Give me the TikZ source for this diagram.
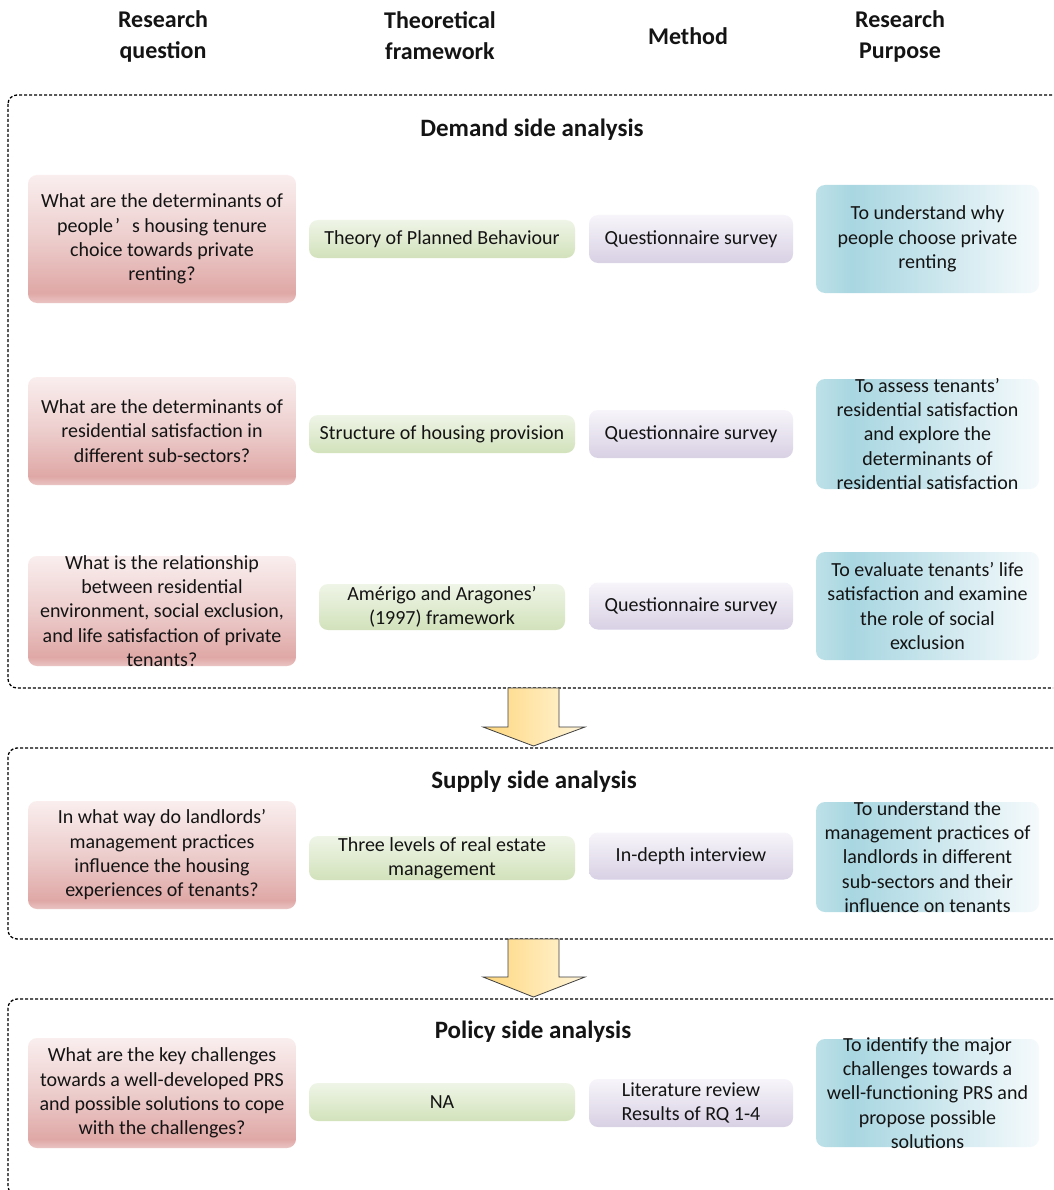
\documentclass[tikz,border=0pt]{standalone}
\usepackage{fontspec}
\setmainfont{Carlito}

\definecolor{txtc}{RGB}{20,20,20}
\definecolor{redTop}{RGB}{250,238,238}
\definecolor{redMid}{RGB}{236,205,204}
\definecolor{redDark}{RGB}{223,168,166}
\definecolor{redBot}{RGB}{234,196,195}
\definecolor{greenTop}{RGB}{239,245,231}
\definecolor{greenBot}{RGB}{210,226,187}
\definecolor{purpTop}{RGB}{247,245,250}
\definecolor{purpBot}{RGB}{216,208,228}
\definecolor{blueL}{RGB}{190,225,232}
\definecolor{blueD}{RGB}{168,214,225}
\definecolor{blueR}{RGB}{245,250,252}
\definecolor{arrowL}{RGB}{255,215,125}
\definecolor{arrowR}{RGB}{255,245,218}

% question boxes: pale top, darker band near the bottom
\pgfdeclareverticalshading{redsh}{100bp}{color(0bp)=(redBot); color(25bp)=(redBot); color(29bp)=(redDark); color(50bp)=(redMid); color(75bp)=(redTop); color(100bp)=(redTop)}
% purpose boxes: teal on the left fading to white on the right
\pgfdeclarehorizontalshading{bluesh}{100bp}{color(0bp)=(blueL); color(25bp)=(blueL); color(33bp)=(blueD); color(75bp)=(blueR); color(100bp)=(blueR)}

\tikzset{
  box/.style={rectangle, rounded corners=9pt, inner sep=0pt, shade},
  qbox/.style={box, shading=redsh},
  fbox/.style={box, top color=greenTop, bottom color=greenBot},
  mbox/.style={box, top color=purpTop, bottom color=purpBot},
  pbox/.style={box, shading=bluesh},
  txt/.style={align=center, font=\fontsize{20}{24.3}\selectfont, text=txtc, inner sep=0pt},
  head/.style={align=center, font=\fontsize{24}{31}\selectfont\bfseries, text=txtc, inner sep=0pt},
  sect/.style={font=\fontsize{25}{30}\selectfont\bfseries, text=txtc, inner sep=0pt},
  frame/.style={draw=black, line width=1.3pt, dash pattern=on 3pt off 2pt, rounded corners=9pt},
  bigarrow/.style={draw=black!75, line width=0.8pt, left color=arrowL, right color=arrowR}
}

\begin{document}
\begin{tikzpicture}[x=1pt, y=-1pt]
\useasboundingbox (0,0) rectangle (1053,1190);
\clip (0,0) rectangle (1053,1190);
\fill[white] (0,0) rectangle (1053,1190);

% column headings
\node[head] (h1) at (163,36) {Research\\question};
\node[head] (h2) at (440,36) {Theoretical\\framework};
\node[head] (h3) at (688,36) {Method};
\node[head] (h4) at (900,36) {Research\\Purpose};

% dashed frames of the three analysis blocks
\draw[frame] (8,95) rectangle (1075,688);
\draw[frame] (8,748) rectangle (1075,939);
\draw[frame] (8,999) rectangle (1075,1195);

% block arrows between blocks
\draw[bigarrow] (508,688) -- (508,727) -- (483,727) -- (533.5,746) -- (585,727) -- (559,727) -- (559,688) -- cycle;
\draw[bigarrow] (508,939) -- (508,977) -- (483,977) -- (533.5,997) -- (585,977) -- (559,977) -- (559,939) -- cycle;

% section titles
\node[sect] (s1) at (532,130) {Demand side analysis};
\node[sect] (s2) at (534,782) {Supply side analysis};
\node[sect] (s3) at (533,1032) {Policy side analysis};

% ---- row 1
\node[qbox, minimum width=268pt, minimum height=128pt] (q1) at (162,239) {};
\node[fbox, minimum width=266pt, minimum height=38pt] (f1) at (442,239) {};
\node[mbox, minimum width=204pt, minimum height=48pt] (m1) at (691,239) {};
\node[pbox, minimum width=223pt, minimum height=108pt] (p1) at (927.5,239) {};
\node[txt] (tq1) at (q1) {What are the determinants of\\people\hspace{2pt}’\hspace{12pt}s housing tenure\\choice towards private\\renting?};
\node[txt] (tf1) at (f1) {Theory of Planned Behaviour};
\node[txt] (tm1) at (m1) {Questionnaire survey};
\node[txt] (tp1) at (p1) {To understand why\\people choose private\\renting};

% ---- row 2
\node[qbox, minimum width=268pt, minimum height=108pt] (q2) at (162,431) {};
\node[fbox, minimum width=266pt, minimum height=38pt] (f2) at (442,434) {};
\node[mbox, minimum width=204pt, minimum height=48pt] (m2) at (691,434) {};
\node[pbox, minimum width=223pt, minimum height=110pt] (p2) at (927.5,434) {};
\node[txt] (tq2) at (q2) {What are the determinants of\\residential satisfaction in\\different sub-sectors?};
\node[txt] (tf2) at (f2) {Structure of housing provision};
\node[txt] (tm2) at (m2) {Questionnaire survey};
\node[txt] (tp2) at (p2) {To assess tenants’\\residential satisfaction\\and explore the\\determinants of\\residential satisfaction};

% ---- row 3
\node[qbox, minimum width=268pt, minimum height=110pt] (q3) at (162,611) {};
\node[fbox, minimum width=246pt, minimum height=46pt] (f3) at (442,607) {};
\node[mbox, minimum width=204pt, minimum height=47pt] (m3) at (691,606) {};
\node[pbox, minimum width=223pt, minimum height=108pt] (p3) at (927.5,606) {};
\node[txt] (tq3) at (q3) {What is the relationship\\between residential\\environment, social exclusion,\\and life satisfaction of private\\tenants?};
\node[txt] (tf3) at (f3) {Amérigo and Aragones’\\(1997) framework};
\node[txt] (tm3) at (m3) {Questionnaire survey};
\node[txt] (tp3) at (p3) {To evaluate tenants’ life\\satisfaction and examine\\the role of social\\exclusion};

% ---- row 4
\node[qbox, minimum width=268pt, minimum height=108pt] (q4) at (162,855) {};
\node[fbox, minimum width=266pt, minimum height=44pt] (f4) at (442,858) {};
\node[mbox, minimum width=204pt, minimum height=47pt] (m4) at (691,856) {};
\node[pbox, minimum width=223pt, minimum height=110pt] (p4) at (927.5,857) {};
\node[txt] (tq4) at (q4) {In what way do landlords’\\management practices\\influence the housing\\experiences of tenants?};
\node[txt] (tf4) at (f4) {Three levels of real estate\\management};
\node[txt] (tm4) at (m4) {In-depth interview};
\node[txt] (tp4) at (p4) {To understand the\\management practices of\\landlords in different\\sub-sectors and their\\influence on tenants};

% ---- row 5
\node[qbox, minimum width=268pt, minimum height=110pt] (q5) at (162,1093) {};
\node[fbox, minimum width=266pt, minimum height=38pt] (f5) at (442,1102) {};
\node[mbox, minimum width=204pt, minimum height=48pt] (m5) at (691,1103) {};
\node[pbox, minimum width=223pt, minimum height=108pt] (p5) at (927.5,1093) {};
\node[txt] (tq5) at (q5) {What are the key challenges\\towards a well-developed PRS\\and possible solutions to cope\\with the challenges?};
\node[txt] (tf5) at (f5) {NA};
\node[txt] (tm5) at (m5) {Literature review\\Results of RQ 1-4};
\node[txt] (tp5) at (p5) {To identify the major\\challenges towards a\\well-functioning PRS and\\propose possible\\solutions};
\end{tikzpicture}
\end{document}
